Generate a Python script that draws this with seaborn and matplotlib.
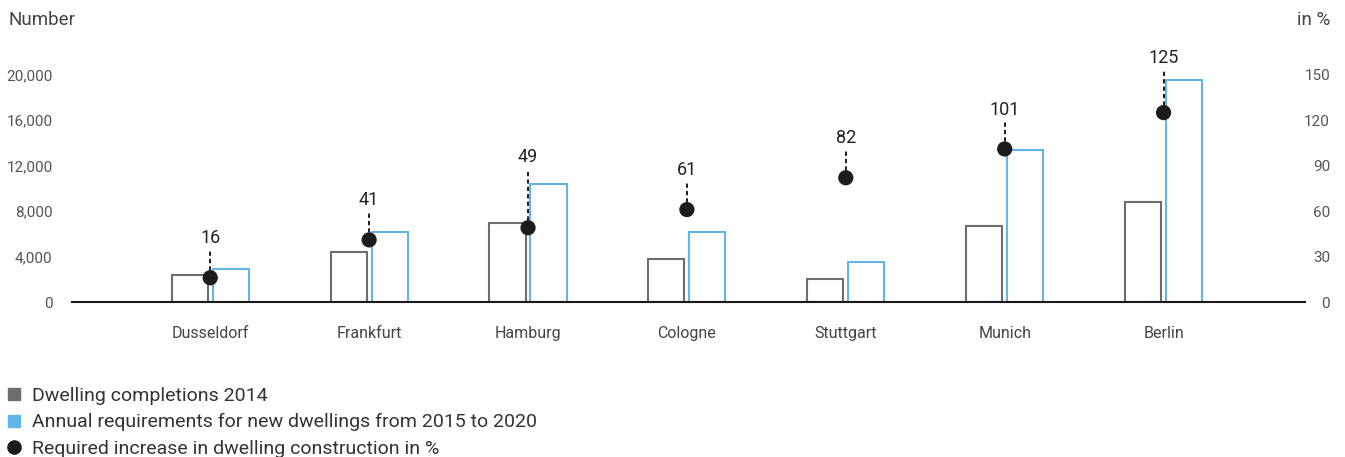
import numpy as np
import pandas as pd
import matplotlib
matplotlib.use("Agg")
import matplotlib.pyplot as plt
from matplotlib.lines import Line2D
import seaborn as sns

cities = ["Dusseldorf", "Frankfurt", "Hamburg", "Cologne", "Stuttgart", "Munich", "Berlin"]
completions_2014 = [2400, 4400, 6950, 3800, 2000, 6650, 8800]
requirements_2015_2020 = [2900, 6200, 10400, 6200, 3550, 13400, 19550]
increase_pct = [16, 41, 49, 61, 82, 101, 125]
left_ticks = [0, 4000, 8000, 12000, 16000, 20000]
right_ticks = [0, 30, 60, 90, 120, 150]
series_names = ["Dwelling completions 2014", "Annual requirements for new dwellings from 2015 to 2020"]
dot_name = "Required increase in dwelling construction in %"

GREY = "#6d6d6d"
BLUE = "#62b5e5"
DOT = "#1c1c1c"
FONT = ["Roboto", "DejaVu Sans"]

sns.set_style("white")
plt.rcParams["font.family"] = FONT

df = pd.DataFrame({
    "city": cities * 2,
    "value": completions_2014 + requirements_2015_2020,
    "series": [series_names[0]] * len(cities) + [series_names[1]] * len(cities),
})

fig = plt.figure(figsize=(13.45, 4.57), dpi=100)
ax = fig.add_axes([72 / 1345, 155 / 457, 1233 / 1345, 250 / 457])

sns.barplot(data=df, x="city", y="value", hue="series", order=cities,
            hue_order=series_names, palette=[GREY, BLUE], fill=False,
            width=0.516, gap=0.12, linewidth=1.5, legend=False, ax=ax)

ymax_left = 22000
ymax_right = ymax_left * 150 / 20000
ax.set_ylim(0, ymax_left)
ax.set_xlim(-0.87, len(cities) - 1 + 0.89)
ax.set_yticks(left_ticks)
ax.set_yticklabels([f"{v:,}" for v in left_ticks])
ax.set_xlabel("")
ax.set_ylabel("")
for s in ["left", "right", "top"]:
    ax.spines[s].set_visible(False)
ax.spines["bottom"].set_color("#1a1a1a")
ax.spines["bottom"].set_linewidth(1.5)
ax.tick_params(axis="y", length=0, pad=14, labelsize=11, labelcolor="#555555")
ax.tick_params(axis="x", length=0, pad=17, labelsize=11.5, labelcolor="#444444")

ax2 = ax.twinx()
ax2.set_ylim(0, ymax_right)
ax2.set_yticks(right_ticks)
ax2.set_yticklabels([str(v) for v in right_ticks], ha="right")
ax2.tick_params(axis="y", length=0, pad=18, labelsize=11, labelcolor="#555555")
for s in ["left", "right", "top", "bottom"]:
    ax2.spines[s].set_visible(False)

xs = np.arange(len(cities))
sns.scatterplot(x=xs, y=increase_pct, color=DOT, s=120, edgecolor="none",
                zorder=5, ax=ax2, legend=False)

req_pct = [r * 150 / 20000 for r in requirements_2015_2020]
for x, p, rp in zip(xs, increase_pct, req_pct):
    ly = min(max(p + 26, rp + 18), ymax_right - 4)
    ax2.plot([x, x], [p, ly - 8], color=DOT, lw=1.4, ls=(0, (2.2, 1.6)), zorder=4)
    ax2.text(x, ly, str(p), ha="center", va="center", fontsize=13, color="#222222")

fig.text(8 / 1345, 1 - 20 / 457, "Number", ha="left", va="center", fontsize=13.5, color="#444444")
fig.text(1330 / 1345, 1 - 20 / 457, "in %", ha="right", va="center", fontsize=13.5, color="#444444")

handles = [
    Line2D([], [], marker="s", ls="none", color=GREY, markersize=9),
    Line2D([], [], marker="s", ls="none", color=BLUE, markersize=9),
    Line2D([], [], marker="o", ls="none", color=DOT, markersize=9.5),
]
fig.legend(handles, series_names + [dot_name], loc="upper left",
           bbox_to_anchor=(7 / 1345, 1 - 387 / 457), frameon=False,
           fontsize=14, handlelength=0.7, handletextpad=0.58,
           labelspacing=0.43, borderpad=0, borderaxespad=0,
           labelcolor="#333333")

fig.savefig("out.png", dpi=100)
